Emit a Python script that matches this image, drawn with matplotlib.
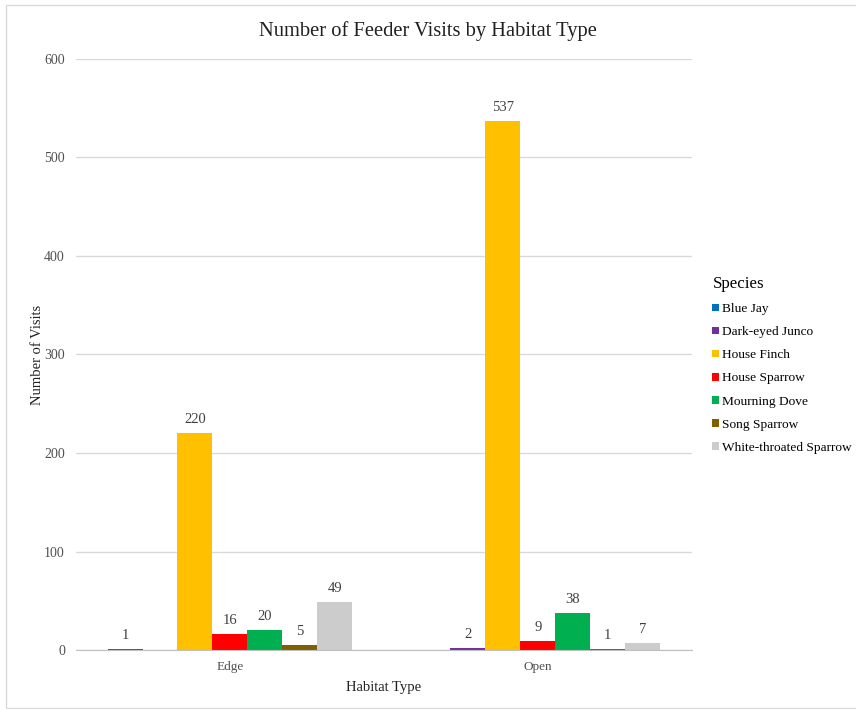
import numpy as np
import matplotlib
matplotlib.use("Agg")
import matplotlib.pyplot as plt
from matplotlib.patches import Patch, Rectangle

# Feeder visit counts per habitat (NaN = species not recorded there)
habitats = ["Edge", "Open"]
species = ["Blue Jay", "Dark-eyed Junco", "House Finch", "House Sparrow",
           "Mourning Dove", "Song Sparrow", "White-throated Sparrow"]
edge_visits = [1, np.nan, 220, 16, 20, 5, 49]
open_visits = [np.nan, 2, 537, 9, 38, 1, 7]
species_colors = ["#0070C0", "#7030A0", "#FFC000", "#FF0000",
                  "#00B050", "#7F6000", "#CCCCCC"]
y_ticks = [0, 100, 200, 300, 400, 500, 600]

plt.rcParams["font.family"] = ["Liberation Serif", "DejaVu Serif"]

fig = plt.figure(figsize=(8.56, 7.09), dpi=100)
ax = fig.add_axes([0.0888, 0.0832, 0.7192, 0.8336])

# chart border
fig.patches.append(Rectangle((6 / 856, 1 / 709), 1.2, 703 / 709,
                             transform=fig.transFigure, fill=False,
                             edgecolor="#D9D9D9", linewidth=1.0))

x = np.arange(len(habitats))
width = 0.1136
data = np.array([edge_visits, open_visits])

for i, name in enumerate(species):
    vals = data[:, i]
    pos = x + (i - 3) * width
    ax.bar(pos, np.nan_to_num(vals), width=width, color=species_colors[i],
           zorder=3)
    for xp, v in zip(pos, vals):
        if np.isnan(v):
            continue
        ax.annotate(f"{int(v)}", (xp, v), xytext=(0, 5),
                    textcoords="offset points", ha="center", va="bottom",
                    fontsize=10.5, color="#404040")

ax.set_xlim(-0.5, 1.5)
ax.set_ylim(0, 600)
ax.set_yticks(y_ticks)
ax.set_xticks(x)
ax.set_xticklabels(habitats)
ax.tick_params(axis="both", length=0, colors="#505050")
ax.tick_params(axis="y", pad=8, labelsize=10)
ax.tick_params(axis="x", pad=8, labelsize=9.5)
ax.yaxis.grid(True, color="#D9D9D9", linewidth=1.0, zorder=0)
for side in ["top", "right", "left"]:
    ax.spines[side].set_visible(False)
ax.spines["bottom"].set_color("#BFBFBF")
ax.spines["bottom"].set_zorder(4)

ax.set_xlabel("Habitat Type", fontsize=10.5, color="#202020", labelpad=6)
ax.set_ylabel("Number of Visits", fontsize=10.5, color="#202020", labelpad=0)
fig.text(0.5, 0.956, "Number of Feeder Visits by Habitat Type",
         ha="center", va="center", fontsize=14.8, color="#202020")

handles = [Patch(facecolor=c, label=s) for s, c in zip(species, species_colors)]
leg = fig.legend(handles=handles, title="Species", loc="upper left",
                 bbox_to_anchor=(0.826, 0.618), frameon=False, fontsize=9.6,
                 title_fontsize=12.2, handlelength=0.5, handleheight=0.5,
                 handletextpad=0.2, labelspacing=0.83, borderaxespad=0)
leg._legend_box.align = "left"

fig.savefig("out.png", dpi=100, facecolor="white")
